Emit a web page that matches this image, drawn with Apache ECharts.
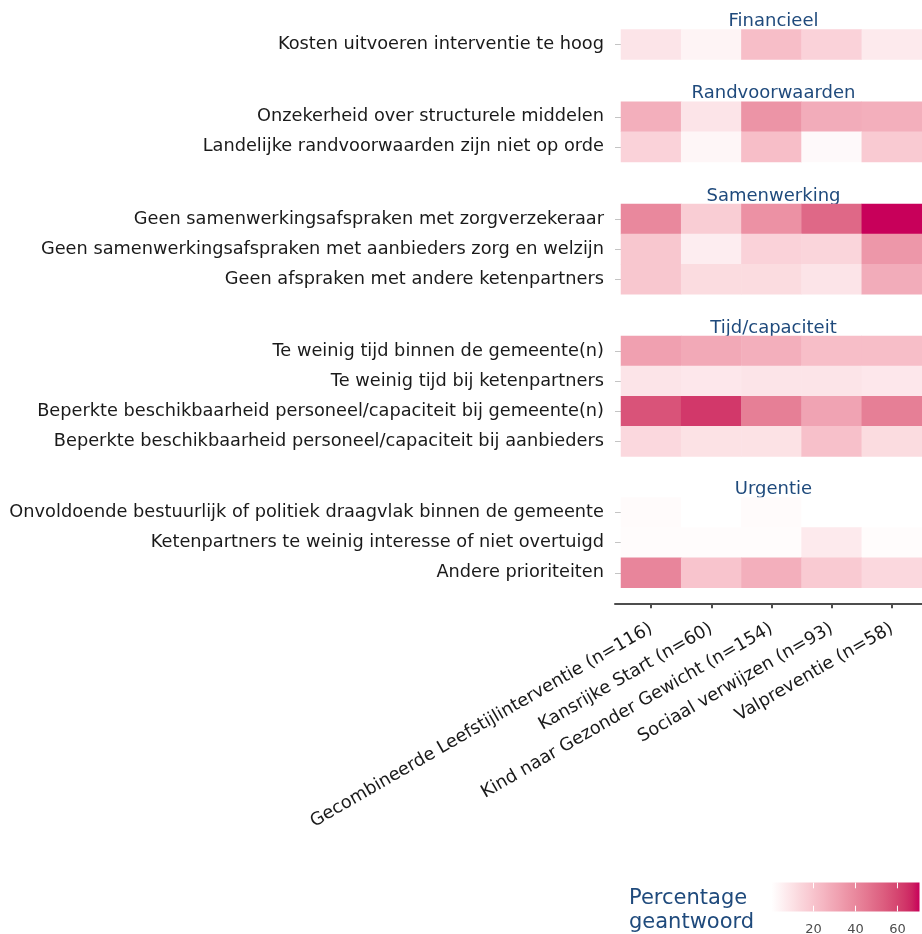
<!DOCTYPE html>
<html><head><meta charset="utf-8">
<script src="https://cdn.jsdelivr.net/npm/echarts@6/dist/echarts.min.js"></script>
<style>html,body{margin:0;padding:0;background:#fff}#c{width:922px;height:934px}</style>
</head><body><div id="c"></div>
<script>
// ---------- DATA ----------
const interventies = ['Gecombineerde Leefstijlinterventie (n=116)', 'Kansrijke Start (n=60)', 'Kind naar Gezonder Gewicht (n=154)', 'Sociaal verwijzen (n=93)', 'Valpreventie (n=58)'];
const facetTitles = ['Financieel', 'Randvoorwaarden', 'Samenwerking', 'Tijd/capaciteit', 'Urgentie'];

const financieelItems = ['Kosten uitvoeren interventie te hoog'];
const financieelValues = [[9, 4, 22, 15, 7]];

const randvoorwaardenItems = ['Onzekerheid over structurele middelen', 'Landelijke randvoorwaarden zijn niet op orde'];
const randvoorwaardenValues = [
  [27, 9, 36, 28, 27],
  [15, 3, 22, 2, 18]
];

const samenwerkingItems = ['Geen samenwerkingsafspraken met zorgverzekeraar', 'Geen samenwerkingsafspraken met aanbieders zorg en welzijn', 'Geen afspraken met andere ketenpartners'];
const samenwerkingValues = [
  [40, 17, 37, 50, 70.5],
  [19, 6, 15, 14, 35],
  [19, 12, 12, 9, 28]
];

const tijdItems = ['Te weinig tijd binnen de gemeente(n)', 'Te weinig tijd bij ketenpartners', 'Beperkte beschikbaarheid personeel/capaciteit bij gemeente(n)', 'Beperkte beschikbaarheid personeel/capaciteit bij aanbieders'];
const tijdValues = [
  [32, 29, 27, 22, 22],
  [9, 8, 9, 9, 8],
  [56, 63, 43, 31, 43],
  [13, 10, 10, 21, 12]
];

const urgentieItems = ['Onvoldoende bestuurlijk of politiek draagvlak binnen de gemeente', 'Ketenpartners te weinig interesse of niet overtuigd', 'Andere prioriteiten'];
const urgentieValues = [
  [1.5, 0, 1.5, 0, 0],
  [1, 1, 1, 7, 1],
  [41, 20, 27, 18, 13]
];

const legendTicks = [20, 40, 60];
const scaleMin = 0, scaleMax = 70.5;

// ---------- COLOUR (Lab interpolation white -> magenta) ----------
function s2l(c) { c /= 255; return c <= 0.04045 ? c / 12.92 : Math.pow((c + 0.055) / 1.055, 2.4); }
function l2s(c) { const v = c <= 0.0031308 ? 12.92 * c : 1.055 * Math.pow(c, 1 / 2.4) - 0.055; return Math.round(Math.max(0, Math.min(1, v)) * 255); }
function hex2rgb(h) { return [parseInt(h.substr(1, 2), 16), parseInt(h.substr(3, 2), 16), parseInt(h.substr(5, 2), 16)]; }
function rgb2lab(rgb) {
  const r = s2l(rgb[0]), g = s2l(rgb[1]), b = s2l(rgb[2]);
  const X = (0.4124 * r + 0.3576 * g + 0.1805 * b) / 0.95047, Y = 0.2126 * r + 0.7152 * g + 0.0722 * b, Z = (0.0193 * r + 0.1192 * g + 0.9505 * b) / 1.08883;
  const f = t => t > 0.008856 ? Math.cbrt(t) : 7.787 * t + 16 / 116;
  const fx = f(X), fy = f(Y), fz = f(Z);
  return [116 * fy - 16, 500 * (fx - fy), 200 * (fy - fz)];
}
function lab2rgb(lab) {
  const fy = (lab[0] + 16) / 116, fx = fy + lab[1] / 500, fz = fy - lab[2] / 200;
  const fi = t => t > 0.206893 ? t * t * t : (t - 16 / 116) / 7.787;
  const X = fi(fx) * 0.95047, Y = fi(fy), Z = fi(fz) * 1.08883;
  const r = 3.2406 * X - 1.5372 * Y - 0.4986 * Z, g = -0.9689 * X + 1.8758 * Y + 0.0415 * Z, b = 0.0557 * X - 0.2040 * Y + 1.0570 * Z;
  return 'rgb(' + l2s(r) + ',' + l2s(g) + ',' + l2s(b) + ')';
}
const lowLab = rgb2lab(hex2rgb('#FFFFFF')), highLab = rgb2lab(hex2rgb('#C8005A'));
const nStops = 21;
const stops = [];
for (let i = 0; i < nStops; i++) {
  const t = i / (nStops - 1);
  stops.push(lab2rgb([0, 1, 2].map(k => lowLab[k] + (highLab[k] - lowLab[k]) * t)));
}

// ---------- LAYOUT ----------
const facets = [
  { items: financieelItems, values: financieelValues },
  { items: randvoorwaardenItems, values: randvoorwaardenValues },
  { items: samenwerkingItems, values: samenwerkingValues },
  { items: tijdItems, values: tijdValues },
  { items: urgentieItems, values: urgentieValues }
];
const rowH = 30.1;
const tops = [29.5, 101.7, 204, 336, 497.5];
const gridLeft = 621, gridW = 305;
const FONT = 'DejaVu Sans';
const FS = 17.75;
const textCol = '#1a1a1a';
const blue = '#1f4a7c';
const axisY = 603.3;

const grids = [], xAxes = [], yAxes = [], series = [], graphics = [];
facets.forEach((f, i) => {
  const last = i === facets.length - 1;
  const h = rowH * f.items.length;
  grids.push({ left: gridLeft, top: tops[i], width: gridW, height: h, containLabel: false });
  xAxes.push({
    type: 'category', gridIndex: i, data: interventies, show: last, position: 'bottom',
    offset: last ? axisY - (tops[i] + h) : 0,
    axisLine: { show: false },
    axisTick: { show: true, alignWithLabel: true, length: 5, lineStyle: { color: '#4d4d4d', width: 2 } },
    axisLabel: { interval: 0, rotate: 30, margin: 24, fontSize: FS, color: textCol, fontFamily: FONT },
    splitLine: { show: false }
  });
  yAxes.push({
    type: 'category', gridIndex: i, data: f.items, inverse: true,
    axisLine: { show: false },
    axisTick: { show: true, alignWithLabel: true, length: 6, lineStyle: { color: '#c4c4c4', width: 1 } },
    axisLabel: { margin: 17, fontSize: FS, color: textCol, fontFamily: FONT, padding: [5, 0, 0, 0] },
    splitLine: { show: false }
  });
  const data = [];
  f.values.forEach((row, yi) => row.forEach((v, xi) => data.push([xi, yi, v])));
  series.push({ type: 'heatmap', xAxisIndex: i, yAxisIndex: i, data: data, emphasis: { disabled: true }, progressive: 0, itemStyle: { borderWidth: 0 } });
  graphics.push({
    type: 'text', x: gridLeft + gridW / 2, y: tops[i] - 8,
    style: { text: facetTitles[i], fill: blue, font: '18px "DejaVu Sans"', textAlign: 'center', textVerticalAlign: 'middle' }
  });
});

// extra grid carrying the x-axis line (panel width incl. expansion)
grids.push({ left: 615, top: axisY - 10, width: 317, height: 10 });
xAxes.push({ type: 'value', gridIndex: 5, min: 0, max: 1, axisLine: { show: true, lineStyle: { color: '#4d4d4d', width: 2 } }, axisTick: { show: false }, axisLabel: { show: false }, splitLine: { show: false } });
yAxes.push({ type: 'value', gridIndex: 5, show: false, splitLine: { show: false } });

// legend (colour bar)
const barX = 771.5, barY = 882.5, barW = 148, barH = 29;
graphics.push({
  type: 'rect', shape: { x: barX, y: barY, width: barW, height: barH },
  style: { fill: new echarts.graphic.LinearGradient(0, 0, 1, 0, stops.map((c, k) => ({ offset: k / (stops.length - 1), color: c }))) }
});
legendTicks.forEach(v => {
  const x = barX + (v - scaleMin) / (scaleMax - scaleMin) * barW;
  graphics.push({ type: 'line', shape: { x1: x, y1: barY, x2: x, y2: barY + 5.8 }, style: { stroke: '#ffffff', lineWidth: 1 } });
  graphics.push({ type: 'line', shape: { x1: x, y1: barY + barH - 5.8, x2: x, y2: barY + barH }, style: { stroke: '#ffffff', lineWidth: 1 } });
  graphics.push({ type: 'text', x: x, y: 930, style: { text: String(v), fill: '#4d4d4d', font: '13px "DejaVu Sans"', textAlign: 'center', textVerticalAlign: 'middle' } });
});
graphics.push({ type: 'text', x: 629, y: 898.5, style: { text: 'Percentage', fill: blue, font: '21px "DejaVu Sans"', textAlign: 'left', textVerticalAlign: 'middle' } });
graphics.push({ type: 'text', x: 629, y: 923, style: { text: 'geantwoord', fill: blue, font: '21px "DejaVu Sans"', textAlign: 'left', textVerticalAlign: 'middle' } });

const chart = echarts.init(document.getElementById('c'), null, { renderer: 'canvas' });
chart.setOption({
  animation: false,
  backgroundColor: '#ffffff',
  textStyle: { fontFamily: FONT },
  grid: grids, xAxis: xAxes, yAxis: yAxes, series: series,
  visualMap: { type: 'continuous', show: false, min: scaleMin, max: scaleMax, seriesIndex: series.map((s, i) => i), dimension: 2, inRange: { color: stops } },
  graphic: graphics
});
</script></body></html>
